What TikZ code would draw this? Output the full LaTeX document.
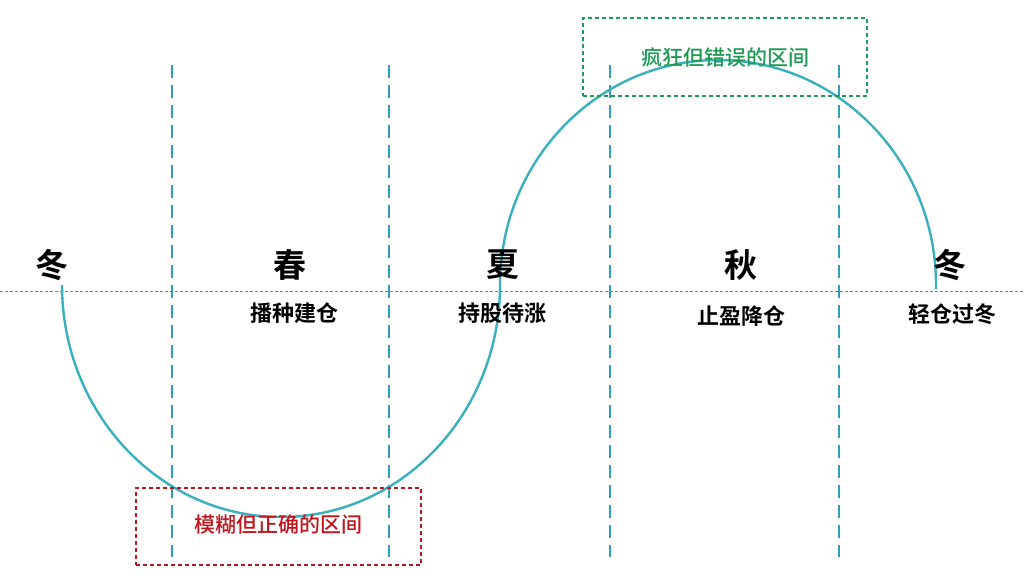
\documentclass[tikz,border=0pt]{standalone}
\usepackage{fontspec}
\setmainfont{Noto Sans CJK SC}
\newfontfamily\cjkb{Noto Sans CJK SC Bold}
\newfontfamily\cjkm{Noto Sans CJK SC Medium}
\definecolor{teal0}{HTML}{2E9FB5}
\definecolor{curv}{HTML}{3AB0BE}
\definecolor{redz}{HTML}{C0151E}
\definecolor{greenz}{HTML}{1E9A55}
\begin{document}
\begin{tikzpicture}[x=1pt,y=-1pt,
  vline/.style={draw=teal0,line width=2.8pt,dash pattern=on 13pt off 7pt},
  season/.style={font=\cjkb\fontsize{33}{33}\selectfont,inner sep=0},
  sub/.style={font=\cjkb\fontsize{22}{22}\selectfont,inner sep=0},
  zone/.style={line width=1.5pt,dash pattern=on 4pt off 3pt}]
\useasboundingbox[fill=white] (0,0) rectangle (1024,583);
\draw[gray,line width=0.6pt,dash pattern=on 3pt off 2pt] (0,291) -- (1024,291);
\foreach \x/\n in {172/a,389/b,610/c,839/d}{
  \coordinate (t\n) at (\x,65); \coordinate (b\n) at (\x,557);
  \draw[vline] (t\n) -- (b\n);}
\coordinate (s) at (62,285);
\draw[curv,line width=2.4pt] (s) arc[start angle=180,end angle=360,x radius=219,y radius=-232]
  arc[start angle=180,end angle=0,x radius=218,y radius=-225] -- ++(0,4);
\node[draw=redz,zone,minimum width=285pt,minimum height=77pt] (rz) at (278.5,526.5) {};
\node[text=redz,font=\cjkm\fontsize{21}{21}\selectfont] at (278,525) {模糊但正确的区间};
\node[draw=greenz,zone,minimum width=284pt,minimum height=78pt] (gz) at (725,57) {};
\node[text=greenz,font=\cjkm\fontsize{21}{21}\selectfont] at (725,58) {疯狂但错误的区间};
\node[season] (w1) at (52,265) {冬};
\node[season] (sp) at (290,265) {春};
\node[season] (su) at (503,265) {夏};
\node[season] (au) at (741,265) {秋};
\node[season] (w2) at (950,265) {冬};
\node[sub] at (294,313) {播种建仓};
\node[sub] at (502,313) {持股待涨};
\node[sub] at (741,316) {止盈降仓};
\node[sub] at (952,314) {轻仓过冬};
\end{tikzpicture}
\end{document}
